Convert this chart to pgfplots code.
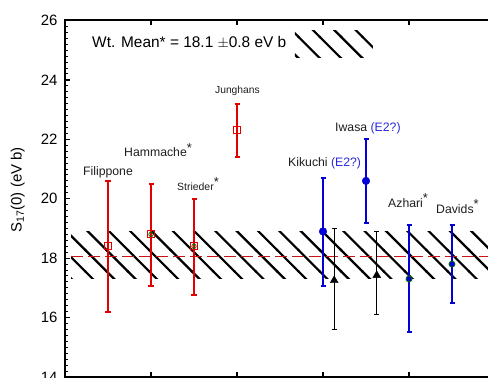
\documentclass[border=0pt]{standalone}
\usepackage{fontspec}
\setmainfont{Liberation Sans}
\usepackage{pgfplots}
\pgfplotsset{compat=1.18}
\usetikzlibrary{patterns}
\definecolor{mred}{RGB}{228,0,0}
\definecolor{mblue}{RGB}{0,0,215}
\definecolor{lblue}{RGB}{40,40,220}
\definecolor{mgreen}{RGB}{0,110,0}
\definecolor{dred}{RGB}{200,20,20}
\definecolor{txt}{RGB}{30,30,30}
\pgfdeclarepatternformonly{widelines}{\pgfqpoint{-1.5pt}{-1.5pt}}{\pgfqpoint{22.9pt}{22.9pt}}{\pgfqpoint{21.4pt}{21.4pt}}{%
  \pgfsetlinewidth{2.2pt}%
  \pgfpathmoveto{\pgfqpoint{-0.7pt}{22.1pt}}%
  \pgfpathlineto{\pgfqpoint{22.1pt}{-0.7pt}}%
  \pgfusepath{stroke}}
\newcommand{\supast}{\raisebox{0.38em}{\fontsize{13}{13}\selectfont *}}
\begin{document}
\begin{tikzpicture}
\begin{axis}[
  scale only axis, width=430bp, height=356.5bp,
  xmin=0, xmax=5, ymin=14, ymax=26,
  xtick={1,2,3,4,5}, xticklabels={},
  ytick={14,16,...,26}, minor y tick num=9,
  ytick pos=left, tick align=inside,
  major tick length=5bp, minor tick length=3bp,
  every tick/.style={black, line width=1.3bp},
  minor tick style={line width=1bp},
  axis line style={line width=2bp},
  /pgf/number format/assume math mode=true,
  tick label style={font=\fontsize{15}{15}\selectfont},
  yticklabel style={xshift=-4bp},
  ylabel={S\textsubscript{17}(0) (eV b)},
  every axis y label/.style={at={(axis description cs:-0.11,0.525)}, rotate=90, anchor=center, font=\fontsize{15}{15}\selectfont},
  clip=false,
]
% band
\addplot[draw=none, pattern=widelines] coordinates {(0.07,17.3) (5,17.3) (5,18.9) (0.07,18.9)} -- cycle;
% legend sample
\addplot[draw=none, pattern=widelines] coordinates {(2.674,24.77) (3.581,24.77) (3.581,25.65) (2.674,25.65)} -- cycle;
% mean line
\addplot[dred, dash pattern=on 12bp off 5bp, line width=1bp] coordinates {(0.07,18.05) (5,18.05)};
% red points
\addplot[mred, only marks, mark=square, mark size=3.5bp, mark options={line width=1bp},
  error bars/.cd, y dir=both, y explicit,
  error bar style={line width=2.4bp, mred},
  error mark options={rotate=90, mark size=2.5bp, line width=2bp, mred}]
  coordinates {
  (0.5,18.4) += (0,2.2) -= (0,2.2)
  (1.0,18.8) += (0,1.7) -= (0,1.75)
  (1.5,18.4) += (0,1.6) -= (0,1.65)
  (2.0,22.3) += (0,0.9) -= (0,0.9)
  };
\addplot[mgreen, only marks, mark=o, mark size=2.2bp, mark options={line width=0.8bp}]
  coordinates {(1.0,18.8) (1.5,18.4)};
% blue points
\addplot[mblue, only marks, mark=*, mark size=3.8bp,
  error bars/.cd, y dir=both, y explicit,
  error bar style={line width=2.4bp, mblue},
  error mark options={rotate=90, mark size=2.5bp, line width=2bp, mblue}]
  coordinates {
  (3.0,18.9) += (0,1.8) -= (0,1.85)
  (3.5,20.6) += (0,1.4) -= (0,1.4)
  };
\addplot[mblue, only marks, mark=*, mark size=3bp, mark options={fill=mblue, draw=mgreen, line width=0.8bp},
  error bars/.cd, y dir=both, y explicit,
  error bar style={line width=2.4bp, mblue},
  error mark options={rotate=90, mark size=2.5bp, line width=2bp, mblue}]
  coordinates {
  (4.0,17.3) += (0,1.8) -= (0,1.8)
  (4.5,17.8) += (0,1.3) -= (0,1.3)
  };
% black triangles
\addplot[black, only marks, mark=triangle*, mark size=4.6bp,
  error bars/.cd, y dir=both, y explicit,
  error bar style={line width=1bp, black},
  error mark options={rotate=90, mark size=2.4bp, line width=1bp, black}]
  coordinates {
  (3.13,17.25) += (0,1.75) -= (0,1.65)
  (3.625,17.42) += (0,1.48) -= (0,1.32)
  };
% labels
\node[anchor=base west, font=\fontsize{15.5}{16}\selectfont, inner sep=0pt] at (axis cs:0.314,25.08) {Wt. Mean* = 18.1 $\pm$0.8 eV b};
\node[anchor=base, txt, font=\fontsize{12.3}{13}\selectfont, inner sep=0pt] at (axis cs:0.5,20.77) {Filippone};
\node[anchor=base west, txt, font=\fontsize{12.3}{13}\selectfont, inner sep=0pt] at (axis cs:0.686,21.41) {Hammache\supast};
\node[anchor=base west, txt, font=\fontsize{10.5}{12}\selectfont, inner sep=0pt] at (axis cs:1.302,20.28) {Strieder\supast};
\node[anchor=base west, txt, font=\fontsize{10.3}{12}\selectfont, inner sep=0pt] at (axis cs:1.744,23.55) {Junghans};
\node[anchor=base west, txt, font=\fontsize{12.3}{13}\selectfont, inner sep=0pt] at (axis cs:2.593,21.07) {Kikuchi \textcolor{lblue}{(E2?)}};
\node[anchor=base west, txt, font=\fontsize{12.3}{13}\selectfont, inner sep=0pt] at (axis cs:3.14,22.28) {Iwasa \textcolor{lblue}{(E2?)}};
\node[anchor=base west, txt, font=\fontsize{12.3}{13}\selectfont, inner sep=0pt] at (axis cs:3.756,19.72) {Azhari\supast};
\node[anchor=base west, txt, font=\fontsize{12.3}{13}\selectfont, inner sep=0pt] at (axis cs:4.314,19.52) {Davids\supast};
\end{axis}
\pgfresetboundingbox
\useasboundingbox (-65bp,-1bp) rectangle (423bp,377bp);
\end{tikzpicture}
\end{document}
